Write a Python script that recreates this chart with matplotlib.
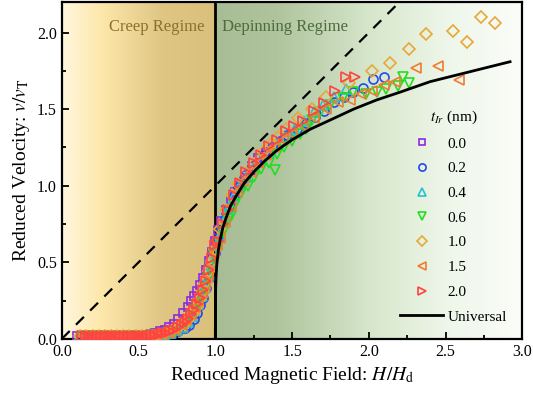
import numpy as np
import matplotlib
matplotlib.use('Agg')
import matplotlib.pyplot as plt
from matplotlib.colors import LinearSegmentedColormap

plt.rcParams['font.family'] = ['Liberation Serif', 'DejaVu Serif']
plt.rcParams['mathtext.fontset'] = 'stix'

# thickness labels and marker styles per series
labels = ['0.0', '0.2', '0.4', '0.6', '1.0', '1.5', '2.0']
markers = ['s', 'o', '^', 'v', 'D', '<', '>']
colors = ['#8a2be2', '#2448f0', '#20c4cc', '#22dd22', '#e8a838', '#f07c30', '#ff4242']

# t_Ir = 0.0 nm
x_00 = [0.10, 0.13, 0.16, 0.19, 0.22, 0.25, 0.28, 0.31, 0.34, 0.37, 0.40, 0.43, 0.46, 0.49,
        0.52, 0.55, 0.58, 0.61, 0.64, 0.67, 0.70, 0.73, 0.76, 0.79, 0.82, 0.84, 0.86, 0.88,
        0.90, 0.92, 0.94, 0.96, 0.98, 1.00, 1.02, 1.04, 1.07, 1.10, 1.13, 1.16, 1.20, 1.24,
        1.28, 1.33]
y_00 = [0.02, 0.02, 0.02, 0.02, 0.02, 0.02, 0.02, 0.02, 0.02, 0.02, 0.02, 0.02, 0.02, 0.02,
        0.025, 0.025, 0.03, 0.04, 0.05, 0.06, 0.08, 0.10, 0.13, 0.17, 0.21, 0.25, 0.28, 0.31,
        0.35, 0.40, 0.45, 0.51, 0.57, 0.64, 0.71, 0.77, 0.84, 0.90, 0.96, 1.01, 1.07, 1.13,
        1.18, 1.22]

# t_Ir = 0.2 nm
x_02 = [0.12, 0.16, 0.20, 0.24, 0.28, 0.32, 0.36, 0.40, 0.44, 0.48, 0.52, 0.56, 0.60, 0.64,
        0.68, 0.72, 0.76, 0.80, 0.83, 0.86, 0.88, 0.90, 0.92, 0.94, 0.96, 0.98, 1.00, 1.02,
        1.04, 1.06, 1.09, 1.12, 1.15, 1.19, 1.23, 1.27, 1.32, 1.37, 1.42, 1.47, 1.53, 1.59,
        1.65, 1.71, 1.77, 1.84, 1.90, 1.96, 2.03, 2.10]
y_02 = [0.02, 0.02, 0.02, 0.02, 0.02, 0.02, 0.02, 0.02, 0.02, 0.02, 0.02, 0.02, 0.02, 0.025,
        0.03, 0.04, 0.05, 0.07, 0.09, 0.13, 0.17, 0.22, 0.27, 0.33, 0.40, 0.48, 0.56, 0.65,
        0.72, 0.78, 0.86, 0.93, 0.99, 1.05, 1.10, 1.15, 1.20, 1.25, 1.29, 1.33, 1.37, 1.41,
        1.45, 1.49, 1.55, 1.58, 1.61, 1.64, 1.70, 1.71]

# t_Ir = 0.4 nm
x_04 = [0.11, 0.15, 0.19, 0.23, 0.27, 0.31, 0.35, 0.39, 0.43, 0.47, 0.51, 0.55, 0.59, 0.63,
        0.67, 0.71, 0.75, 0.79, 0.82, 0.85, 0.87, 0.89, 0.91, 0.93, 0.95, 0.97, 0.99, 1.01,
        1.03, 1.06, 1.09, 1.12, 1.16, 1.20, 1.25, 1.30, 1.35, 1.40, 1.46, 1.52, 1.58, 1.64,
        1.70, 1.77, 1.85]
y_04 = [0.02, 0.02, 0.02, 0.02, 0.02, 0.02, 0.02, 0.02, 0.02, 0.02, 0.02, 0.02, 0.02, 0.025,
        0.03, 0.04, 0.06, 0.08, 0.11, 0.15, 0.19, 0.23, 0.28, 0.34, 0.41, 0.48, 0.56, 0.62,
        0.68, 0.78, 0.86, 0.93, 1.00, 1.06, 1.12, 1.17, 1.22, 1.27, 1.32, 1.37, 1.42, 1.48,
        1.53, 1.58, 1.63]

# t_Ir = 0.6 nm
x_06 = [0.13, 0.17, 0.21, 0.25, 0.29, 0.33, 0.37, 0.41, 0.45, 0.49, 0.53, 0.57, 0.61, 0.65,
        0.69, 0.73, 0.77, 0.81, 0.84, 0.87, 0.89, 0.91, 0.93, 0.95, 0.97, 0.99, 1.02, 1.05,
        1.08, 1.10, 1.13, 1.17, 1.21, 1.25, 1.30, 1.35, 1.39, 1.40, 1.45, 1.50, 1.55, 1.59,
        1.63, 1.68, 1.75, 1.83, 1.90, 1.98, 2.05, 2.11, 2.19, 2.22, 2.26]
y_06 = [0.02, 0.02, 0.02, 0.02, 0.02, 0.02, 0.02, 0.02, 0.02, 0.02, 0.02, 0.02, 0.025, 0.03,
        0.035, 0.05, 0.07, 0.10, 0.14, 0.19, 0.23, 0.28, 0.33, 0.40, 0.47, 0.55, 0.60, 0.70,
        0.78, 0.80, 0.88, 0.95, 1.00, 1.06, 1.11, 1.15, 1.10, 1.21, 1.25, 1.29, 1.34, 1.37,
        1.43, 1.48, 1.53, 1.57, 1.61, 1.60, 1.61, 1.63, 1.65, 1.71, 1.67]

# t_Ir = 1.0 nm
x_10 = [0.12, 0.16, 0.20, 0.24, 0.28, 0.32, 0.36, 0.40, 0.44, 0.48, 0.52, 0.56, 0.60, 0.64,
        0.68, 0.72, 0.76, 0.80, 0.83, 0.86, 0.88, 0.90, 0.92, 0.94, 0.96, 0.98, 1.00, 1.03,
        1.07, 1.11, 1.15, 1.20, 1.25, 1.31, 1.36, 1.41, 1.46, 1.54, 1.63, 1.72, 1.87, 2.02,
        2.14, 2.26, 2.37, 2.55, 2.64, 2.73, 2.82]
y_10 = [0.02, 0.02, 0.02, 0.02, 0.02, 0.02, 0.02, 0.02, 0.02, 0.02, 0.02, 0.02, 0.02, 0.025,
        0.035, 0.05, 0.07, 0.10, 0.13, 0.17, 0.21, 0.26, 0.31, 0.37, 0.44, 0.51, 0.59, 0.72,
        0.84, 0.94, 1.01, 1.08, 1.14, 1.22, 1.27, 1.32, 1.37, 1.44, 1.50, 1.58, 1.67, 1.75,
        1.80, 1.89, 1.99, 2.01, 1.94, 2.10, 2.06]

# t_Ir = 1.5 nm
x_15 = [0.14, 0.18, 0.22, 0.26, 0.30, 0.34, 0.38, 0.42, 0.46, 0.50, 0.54, 0.58, 0.62, 0.66,
        0.70, 0.74, 0.78, 0.81, 0.84, 0.87, 0.89, 0.91, 0.93, 0.95, 0.97, 0.99, 1.01, 1.03,
        1.06, 1.10, 1.14, 1.18, 1.23, 1.28, 1.33, 1.38, 1.44, 1.50, 1.57, 1.64, 1.72, 1.80,
        1.88, 1.95, 2.02, 2.10, 2.17, 2.31, 2.45, 2.59]
y_15 = [0.02, 0.02, 0.02, 0.02, 0.02, 0.02, 0.02, 0.02, 0.02, 0.02, 0.02, 0.02, 0.025, 0.03,
        0.04, 0.06, 0.09, 0.12, 0.16, 0.21, 0.25, 0.30, 0.35, 0.42, 0.49, 0.56, 0.61, 0.66,
        0.76, 0.87, 0.96, 1.03, 1.09, 1.15, 1.20, 1.25, 1.30, 1.34, 1.39, 1.44, 1.50, 1.55,
        1.56, 1.60, 1.62, 1.66, 1.68, 1.77, 1.78, 1.69]

# t_Ir = 2.0 nm
x_20 = [0.13, 0.155, 0.18, 0.205, 0.23, 0.255, 0.28, 0.305, 0.33, 0.355, 0.38, 0.405, 0.43,
        0.455, 0.48, 0.505, 0.53, 0.555, 0.58, 0.605, 0.63, 0.655, 0.68, 0.705, 0.73, 0.755,
        0.78, 0.80, 0.82, 0.84, 0.86, 0.88, 0.90, 0.92, 0.94, 0.96, 0.98, 1.00, 1.02, 1.05,
        1.08, 1.12, 1.16, 1.20, 1.25, 1.30, 1.35, 1.40, 1.46, 1.51, 1.57, 1.64, 1.71, 1.78,
        1.85, 1.91]
y_20 = [0.02, 0.02, 0.02, 0.02, 0.02, 0.02, 0.02, 0.02, 0.02, 0.02, 0.02, 0.02, 0.02,
        0.02, 0.02, 0.02, 0.02, 0.02, 0.025, 0.025, 0.03, 0.035, 0.04, 0.05, 0.06, 0.075,
        0.09, 0.11, 0.13, 0.16, 0.19, 0.23, 0.27, 0.32, 0.38, 0.45, 0.53, 0.61, 0.64, 0.75,
        0.84, 0.94, 1.02, 1.09, 1.15, 1.20, 1.26, 1.30, 1.36, 1.39, 1.42, 1.49, 1.54, 1.62,
        1.71, 1.71]

series_x = [x_00, x_02, x_04, x_06, x_10, x_15, x_20]
series_y = [y_00, y_02, y_04, y_06, y_10, y_15, y_20]

# universal curve
x_univ = [1.000, 1.001, 1.003, 1.006, 1.01, 1.02, 1.03, 1.05, 1.07, 1.10, 1.14, 1.19, 1.25,
          1.32, 1.40, 1.50, 1.62, 1.75, 1.90, 2.05, 2.20, 2.40, 2.60, 2.80, 2.92]
y_univ = [0.00, 0.27, 0.36, 0.43, 0.49, 0.58, 0.64, 0.73, 0.79, 0.87, 0.94, 1.02, 1.09,
          1.16, 1.23, 1.30, 1.37, 1.43, 1.50, 1.56, 1.61, 1.68, 1.73, 1.78, 1.81]

# dashed reference line v = H
x_ref = [0.0, 2.3]
y_ref = [0.0, 2.3]

fig = plt.figure(figsize=(5.33, 4.01), dpi=100)
ax = fig.add_axes([0.116, 0.155, 0.864, 0.84])

# background gradients
creep_cmap = LinearSegmentedColormap.from_list(
    'creep', [(0.0, '#fff6de'), (0.25, '#fde8ab'), (0.65, '#dfc683'), (1.0, '#d9c07b')])
depin_cmap = LinearSegmentedColormap.from_list(
    'depin', [(0.0, '#a8bd96'), (0.2, '#afc49d'), (0.5, '#d6e6ca'), (0.75, '#eef6e9'), (1.0, '#fbfdf9')])
grad = np.linspace(0, 1, 256).reshape(1, -1)
ax.imshow(grad, cmap=creep_cmap, extent=[0, 1, 0, 2.2], aspect='auto', zorder=0)
ax.imshow(grad, cmap=depin_cmap, extent=[1, 3, 0, 2.2], aspect='auto', zorder=0)
ax.axvline(1.0, color='black', lw=2, zorder=2)

ax.text(0.62, 2.04, 'Creep Regime', color='#8c7230', fontsize=12, ha='center', va='center')
ax.text(1.045, 2.04, 'Depinning Regime', color='#4e6b3e', fontsize=12, ha='left', va='center')

ax.plot(x_ref, y_ref, ls=(0, (5, 4)), color='black', lw=1.6, zorder=3)

sizes = {'s': 6, 'o': 6.5, '^': 7, 'v': 7, 'D': 6, '<': 7, '>': 7}
for xs, ys, m, c, lab in zip(series_x, series_y, markers, colors, labels):
    ax.plot(xs, ys, ls='none', marker=m, ms=sizes[m], mfc='none', mec=c, mew=1.2,
            label=lab, zorder=4)

ax.plot(x_univ, y_univ, color='black', lw=2, label='Universal', zorder=5)

ax.set_xlim(0, 3.0)
ax.set_ylim(0, 2.2)
ax.set_xticks(np.arange(0, 3.01, 0.5))
ax.set_xticks(np.arange(0.25, 3.0, 0.5), minor=True)
ax.set_yticks(np.arange(0, 2.01, 0.5))
ax.set_yticks(np.arange(0.25, 2.2, 0.5), minor=True)
ax.tick_params(which='both', direction='in', labelsize=11.5, width=1.3)
ax.tick_params(which='major', length=5)
ax.tick_params(which='minor', length=3)
for s in ax.spines.values():
    s.set_linewidth(1.6)

ax.set_xlabel('Reduced Magnetic Field: $H/H_\\mathrm{d}$', fontsize=14)
ax.set_ylabel('Reduced Velocity: $v/v_\\mathrm{T}$', fontsize=14)

leg = ax.legend(loc='lower right', bbox_to_anchor=(1.0, 0.0), frameon=False, fontsize=11,
                title='$t_{Ir}$ (nm)', title_fontsize=11, handlelength=2.8, markerscale=0.8,
                labelspacing=0.72, handletextpad=0.3, borderaxespad=0.6)

fig.savefig('out.png', dpi=100)
